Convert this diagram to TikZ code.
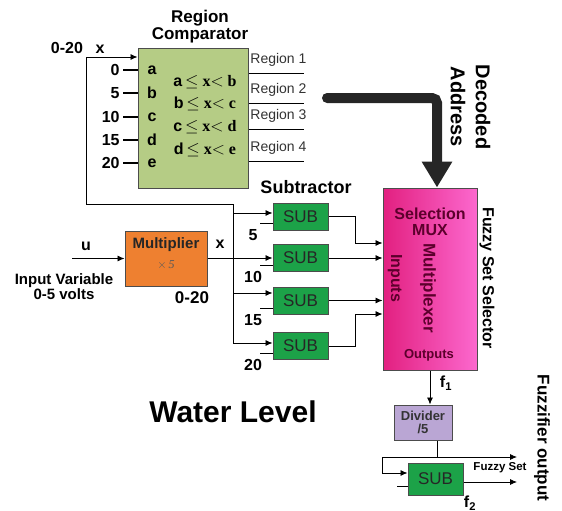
\documentclass[tikz,border=0pt]{standalone}
\usepackage{fontspec}
\setmainfont{Liberation Sans}
\newfontfamily\condfont{Liberation Serif}
\usetikzlibrary{arrows.meta}
\definecolor{cmpcol}{RGB}{181,204,133}
\definecolor{multcol}{RGB}{238,128,48}
\definecolor{subcol}{RGB}{28,162,72}
\definecolor{divcol}{RGB}{186,166,212}
\definecolor{muxdark}{RGB}{226,32,128}
\definecolor{muxlight}{RGB}{252,104,206}
\definecolor{muxtxt}{RGB}{92,0,44}
\definecolor{arrcol}{RGB}{38,38,38}
\newcommand{\fsz}[1]{\fontsize{#1}{#1}\selectfont}
\newcommand{\cond}[3]{\textbf{#1}\,{\condfont\bfseries $\le$ x$<$ #3}}

\begin{document}
\begin{tikzpicture}[
  x=1pt, y=-1pt,
  >={Latex[length=7pt,width=6pt]}, line width=0.8pt,
  box/.style={draw=black!70,line width=1pt,inner sep=0pt},
  subbox/.style={box,fill=subcol,minimum width=55pt,minimum height=27pt,
                 text=black!85,font=\fsz{17}},
  lbl/.style={font=\bfseries\fsz{16}},
  small/.style={font=\bfseries\fsz{13}},
]
\useasboundingbox (0,0) rectangle (562,511);

% --- region comparator ---
\node[box,fill=cmpcol,minimum width=110pt,minimum height=139pt] (cmp) at (193,118.5) {};
\node[align=center,font=\bfseries\fsz{17}] (cmptitle) at (200,27)
  {\fontsize{17}{22}\selectfont Region\\Comparator};
\node[lbl] (rng) at (67,48) {0-20};
\node[lbl] (xtop) at (100,49) {x};
\foreach \y/\v/\l in {70/0/a,93/5/b,117/10/c,140/15/d,163/20/e}{
  \draw[line width=1.8pt] (cmp.west |- 0,\y) -- ++(-15,0) node[left,lbl,inner sep=2pt] {\v};
  \node[lbl] at (152,\y) {\l};
}
\node[font=\fsz{16}] (c1) at (205,82)  {\cond{a}{x}{b}};
\node[font=\fsz{16}] (c2) at (205,104) {\cond{b}{x}{c}};
\node[font=\fsz{16}] (c3) at (205,127) {\cond{c}{x}{d}};
\node[font=\fsz{16}] (c4) at (205,150) {\cond{d}{x}{e}};
\foreach \y/\i in {73/1,103/2,129/3,161/4}{
  \draw (cmp.east |- 0,\y) -- ++(55,0);
  \node[anchor=west,font=\fsz{14},text=black!80,inner sep=1pt] at (249,\y-13) {Region \i};
}

% --- multiplier and input ---
\node[box,fill=multcol,minimum width=82pt,minimum height=55pt] (mult) at (166,258.5) {};
\node[font=\bfseries\fsz{15},text=black!85] (multtxt) at (166,245) {Multiplier};
\node[font=\condfont\itshape\fsz{12},text=black!65] (multfac) at (166,265) {$\times$\,5};
\coordinate (uin) at (72,258.5);
\draw[->] (uin) -- (mult.west);
\node[lbl] (u) at (86,246) {u};
\node[align=center,font=\bfseries\fsz{15}] (inlbl) at (64,287)
  {\fontsize{15}{19}\selectfont Input Variable\\0-5 volts};
\node[font=\bfseries\fsz{17}] (mrng) at (192,298) {0-20};
\node[lbl] (xmid) at (220,244) {x};

% --- subtractors ---
\node[font=\bfseries\fsz{18}] (subtitle) at (306,187) {Subtractor};
\node[subbox] (sub1) at (300.5,216.5) {SUB};
\node[subbox] (sub2) at (300.5,258)   {SUB};
\node[subbox] (sub3) at (300.5,300.5) {SUB};
\node[subbox] (sub4) at (300.5,346)   {SUB};
\coordinate (bustop) at (233,204);
\coordinate (busbot) at (233,343);
\draw[->] (bustop) -- (86,204) |- (cmp.west |- 0,57);
\draw (bustop) -- (busbot);
\draw (mult.east) -- (bustop |- mult.east);
\foreach \i/\ay/\ly/\v in {1/213/223/5,2/258/265/10,3/293/308/15,4/343/353/20}{
  \draw[->] (233,\ay) -- (sub\i.west |- 0,\ay);
  \draw (sub\i.west |- 0,\ly) -- ++(-13,0);
  \node[lbl] at (253,\ly+12) {\v};
}

% --- selection mux ---
\node[box,left color=muxdark,right color=muxlight,minimum width=94pt,minimum height=182pt] (mux) at (430,279) {};
\node[align=center,font=\bfseries\fsz{16},text=muxtxt] (muxtitle) at (430,222)
  {\fontsize{16}{18}\selectfont Selection\\MUX};
\node[rotate=-90,font=\bfseries\fsz{17},text=muxtxt] (mpx) at (428,288) {Multiplexer};
\node[rotate=-90,font=\bfseries\fsz{16},text=muxtxt] (mins) at (395,278) {Inputs};
\node[font=\bfseries\fsz{13},text=muxtxt] (mouts) at (429,355) {Outputs};
\node[rotate=-90,font=\bfseries\fsz{16}] (fss) at (487,278) {Fuzzy Set Selector};
\draw[->] (sub1.east) -- ++(27,0) |- (mux.west |- 0,243);
\draw[->] (sub2.east) -- (sub2.east -| mux.west);
\draw[->] (sub3.east) -- (sub3.east -| mux.west);
\draw[->] (sub4.east) -- ++(27,0) |- (mux.west |- 0,314);

% --- decoded address ---
\coordinate (dec) at (327,98);
\draw[-{Triangle[length=26pt,width=29pt]},line width=10pt,arrcol,line cap=round,rounded corners=5pt]
  (dec) -| ([xshift=7pt]mux.north);
\node[rotate=-90,font=\bfseries\fsz{20}] (decl) at (483,107) {Decoded};
\node[rotate=-90,font=\bfseries\fsz{20}] (addl) at (458,107) {Address};

% --- divider and fuzzy output ---
\node[box,fill=divcol,minimum width=58pt,minimum height=35pt,align=center,
      font=\bfseries\fsz{13},text=black!80] (div) at (423,422.5)
  {\fontsize{13}{18}\selectfont Divider\\/5};
\draw[->] (mux.south) -- (mux.south |- div.north);
\node[lbl] (f1) at (446,383) {f\textsubscript{1}};
\node[subbox,minimum height=32pt] (subf) at (435.5,479) {SUB};
\coordinate (split) at (437,457);
\draw ([xshift=14pt]div.south) -- (split);
\draw[->] (split) -- (517,457);
\draw[->] (split) -- (382,457) |- (subf.west |- 0,473);
\draw (subf.west |- 0,486) -- ++(-11,0);
\draw[->] (subf.east |- 0,482) -- (517,482);
\node[font=\bfseries\fsz{11.5}] (fset) at (500,468) {Fuzzy Set};
\node[lbl] (f2) at (470,503) {f\textsubscript{2}};
\node[rotate=-90,font=\bfseries\fsz{17}] (fout) at (542,438) {Fuzzifier output};

% --- caption ---
\node[font=\bfseries\fsz{30}] (water) at (233,412) {Water Level};
\end{tikzpicture}
\end{document}
